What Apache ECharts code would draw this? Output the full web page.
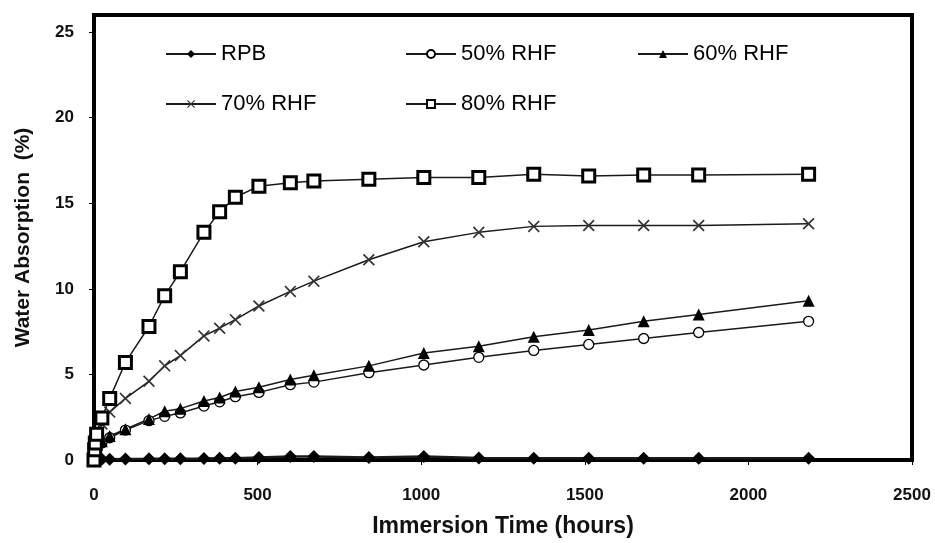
<!DOCTYPE html>
<html>
<head>
<meta charset="utf-8">
<script src="https://cdn.jsdelivr.net/npm/echarts@6/dist/echarts.min.js"></script>
<style>
  html, body { margin: 0; padding: 0; background: #fff; }
  #chart { width: 935px; height: 543px; }
</style>
</head>
<body>
<div id="chart"></div>
<script>
// immersion time (hours), shared by all series
var hours = [0, 2, 4, 8, 24, 48, 96, 168, 216, 264, 336, 384, 432, 504, 600, 672, 840, 1008, 1176, 1344, 1512, 1680, 1848, 2184];
// water absorption (%)
var rpb   = [0, 0.02, 0.04, 0.05, 0.05, 0.05, 0.06, 0.07, 0.08, 0.08, 0.09, 0.1, 0.1, 0.15, 0.2, 0.2, 0.15, 0.2, 0.12, 0.1, 0.1, 0.1, 0.1, 0.1];
var rhf50 = [0, 0.3, 0.5, 0.8, 1.0, 1.3, 1.75, 2.3, 2.55, 2.75, 3.15, 3.4, 3.7, 3.95, 4.4, 4.55, 5.1, 5.55, 6.0, 6.4, 6.75, 7.1, 7.45, 8.1];
var rhf60 = [0, 0.3, 0.6, 0.9, 1.1, 1.4, 1.8, 2.4, 2.85, 3.0, 3.45, 3.65, 4.0, 4.25, 4.7, 4.95, 5.5, 6.25, 6.65, 7.2, 7.6, 8.1, 8.5, 9.3];
var rhf70 = [0, 0.5, 0.8, 1.2, 2.1, 2.8, 3.6, 4.6, 5.5, 6.1, 7.25, 7.7, 8.2, 9.0, 9.85, 10.45, 11.7, 12.75, 13.3, 13.65, 13.7, 13.7, 13.7, 13.8];
var rhf80 = [0, 0.6, 1.0, 1.5, 2.45, 3.6, 5.7, 7.8, 9.6, 11.0, 13.3, 14.5, 15.35, 16.0, 16.2, 16.3, 16.4, 16.5, 16.5, 16.7, 16.6, 16.65, 16.65, 16.7];

var seriesNames = ['RPB', '50% RHF', '60% RHF', '70% RHF', '80% RHF'];
var xTicks = [0, 500, 1000, 1500, 2000, 2500];
var yTicks = [0, 5, 10, 15, 20, 25];

var FONT = 'Liberation Sans';
var crossPath = 'path://M0,1L1,0L5,4L9,0L10,1L6,5L10,9L9,10L5,6L1,10L0,9L4,5Z';

function pairs(vals) {
    var out = [];
    for (var i = 0; i < hours.length; i++) {
        out.push([hours[i], vals[i]]);
    }
    return out;
}

function makeSeries(name, vals, symbol, size, itemStyle, lineWidth) {
    return {
        name: name,
        type: 'line',
        data: pairs(vals),
        symbol: symbol,
        symbolSize: size,
        showAllSymbol: true,
        itemStyle: itemStyle,
        lineStyle: { color: '#1a1a1a', width: lineWidth },
        emphasis: { disabled: true },
        z: 3
    };
}

function makeLegend(name, left, top) {
    return {
        data: [name],
        left: left,
        top: top,
        itemWidth: 50,
        itemHeight: 10,
        textStyle: { fontFamily: FONT, fontSize: 22, color: '#000' },
        selectedMode: false
    };
}

var chart = echarts.init(document.getElementById('chart'));

var option = {
    animation: false,
    backgroundColor: '#fff',
    grid: {
        left: 94, right: 23, top: 15, bottom: 81,
        show: true, borderColor: '#000', borderWidth: 4
    },
    legend: [
        makeLegend(seriesNames[0], 160, 38),
        makeLegend(seriesNames[1], 400, 38),
        makeLegend(seriesNames[2], 632, 38),
        makeLegend(seriesNames[3], 160, 88),
        makeLegend(seriesNames[4], 400, 88)
    ],
    xAxis: {
        type: 'value',
        min: xTicks[0], max: xTicks[xTicks.length - 1], interval: 500,
        name: 'Immersion Time (hours)',
        nameLocation: 'middle',
        nameGap: 55,
        nameTextStyle: { fontFamily: FONT, fontSize: 23, fontWeight: 'bold', color: '#111' },
        axisLine: { lineStyle: { color: '#000', width: 4 } },
        axisTick: { show: true, length: 5, lineStyle: { color: '#000', width: 1 } },
        axisLabel: {
            fontFamily: FONT, fontSize: 17, fontWeight: 'bold', color: '#111', margin: 27,
            formatter: function (v) { return String(v); }
        },
        splitLine: { show: false }
    },
    yAxis: {
        type: 'value',
        min: yTicks[0], max: 26, interval: 5,
        name: 'Water Absorption  (%)',
        nameLocation: 'middle',
        nameGap: 60,
        nameTextStyle: { fontFamily: FONT, fontSize: 21, fontWeight: 'bold', color: '#111' },
        axisLine: { show: true, lineStyle: { color: '#000', width: 4 } },
        axisTick: { show: true, length: 5, lineStyle: { color: '#000', width: 1 } },
        axisLabel: {
            fontFamily: FONT, fontSize: 17, fontWeight: 'bold', color: '#111', margin: 20,
            showMaxLabel: false,
            formatter: function (v) { return yTicks.indexOf(v) >= 0 ? String(v) : ''; }
        },
        splitLine: { show: false }
    },
    series: [
        makeSeries(seriesNames[0], rpb, 'diamond', 13, { color: '#000' }, 2.5),
        makeSeries(seriesNames[1], rhf50, 'circle', 10, { color: '#fff', borderColor: '#000', borderWidth: 1.3 }, 1.5),
        makeSeries(seriesNames[2], rhf60, 'triangle', 12, { color: '#000' }, 1.5),
        makeSeries(seriesNames[3], rhf70, crossPath, 12, { color: '#333' }, 1.5),
        makeSeries(seriesNames[4], rhf80, 'rect', 12, { color: '#fff', borderColor: '#000', borderWidth: 3 }, 1.5)
    ]
};

chart.setOption(option);
</script>
</body>
</html>
